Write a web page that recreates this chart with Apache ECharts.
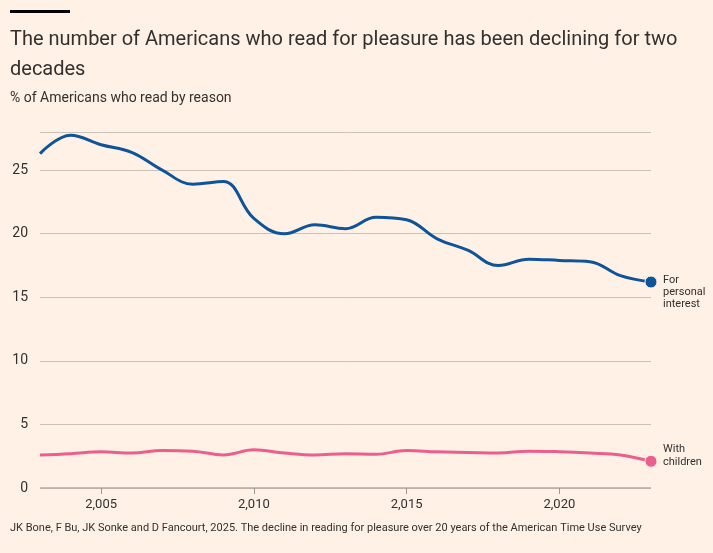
<!DOCTYPE html>
<html><head><meta charset="utf-8">
<script src="https://cdn.jsdelivr.net/npm/echarts@6/dist/echarts.min.js"></script>
<style>html,body{margin:0;background:#fff1e5}#main{width:713px;height:553px}</style>
</head><body><div id="main"></div>
<script>
var years = [2003,2004,2005,2006,2007,2008,2009,2010,2011,2012,2013,2014,2015,2016,2017,2018,2019,2020,2021,2022,2023];
var personal = [26.3,27.75,27.0,26.4,25.0,23.9,24.1,21.2,20.0,20.7,20.4,21.3,21.1,19.6,18.7,17.5,18.0,17.9,17.8,16.7,16.2];
var children = [2.6,2.7,2.85,2.75,2.95,2.9,2.6,3.0,2.75,2.6,2.7,2.65,2.95,2.85,2.8,2.75,2.9,2.85,2.75,2.6,2.1];
var xTicks = [2005,2010,2015,2020];

function pts(vals, color) {
  return years.map(function (y, i) {
    var last = i === years.length - 1;
    return { value: [y, vals[i]], symbol: last ? 'circle' : 'none', symbolSize: 12,
      itemStyle: { color: color, borderColor: '#fff1e5', borderWidth: 1 } };
  });
}

var chart = echarts.init(document.getElementById('main'));
var font = 'Roboto, "Noto Sans", sans-serif';
chart.setOption({
  backgroundColor: '#fff1e5',
  animation: false,
  textStyle: { fontFamily: font },
  graphic: [
    { type: 'rect', shape: { x: 10, y: 10, width: 60, height: 3 }, style: { fill: '#000' } },
    { type: 'text', left: 10, top: 25, style: { text: 'The number of Americans who read for pleasure has been declining for two\ndecades', fontSize: 20, lineHeight: 30, fill: '#33302e', fontFamily: font } },
    { type: 'text', left: 10, top: 91, style: { text: '% of Americans who read by reason', fontSize: 14, fill: '#33302e', fontFamily: font } },
    { type: 'text', left: 10, top: 523, style: { text: 'JK Bone, F Bu, JK Sonke and D Fancourt, 2025. The decline in reading for pleasure over 20 years of the American Time Use Survey', fontSize: 11, fill: '#33302e', fontFamily: font } }
  ],
  grid: { left: 40, right: 62, top: 132, bottom: 65 },
  xAxis: {
    type: 'value', min: 2003, max: 2023,
    axisLine: { show: false },
    splitLine: { show: false },
    axisTick: { show: true, length: 6, customValues: xTicks, lineStyle: { color: '#999' } },
    axisLabel: { customValues: xTicks, color: '#33302e', fontSize: 13, margin: 10, formatter: '{value}' }
  },
  yAxis: {
    type: 'value', min: 0, max: 28, interval: 5,
    axisLabel: { color: '#33302e', fontSize: 14, margin: 12, showMaxLabel: false },
    splitLine: { lineStyle: { color: '#ccc1b7' } },
    axisLine: { show: false }, axisTick: { show: false }
  },
  series: [
    { type: 'line', smooth: 0.4, data: pts(personal, '#0f5499'),
      lineStyle: { color: '#0f5499', width: 3 },
      endLabel: { show: true, formatter: 'For\npersonal\ninterest', color: '#33302e', fontSize: 11, lineHeight: 12, distance: 12, align: 'left', verticalAlign: 'top', offset: [0, -8] } },
    { type: 'line', smooth: 0.4, data: pts(children, '#eb5e8d'),
      lineStyle: { color: '#eb5e8d', width: 3 },
      endLabel: { show: true, formatter: 'With\nchildren', color: '#33302e', fontSize: 11, lineHeight: 13, distance: 12, offset: [0, -6] } },
    { type: 'line', data: [[2003, 0], [2023, 0]], symbol: 'none', silent: true, lineStyle: { color: '#8a8480', width: 1 } }
  ]
});
</script></body></html>
